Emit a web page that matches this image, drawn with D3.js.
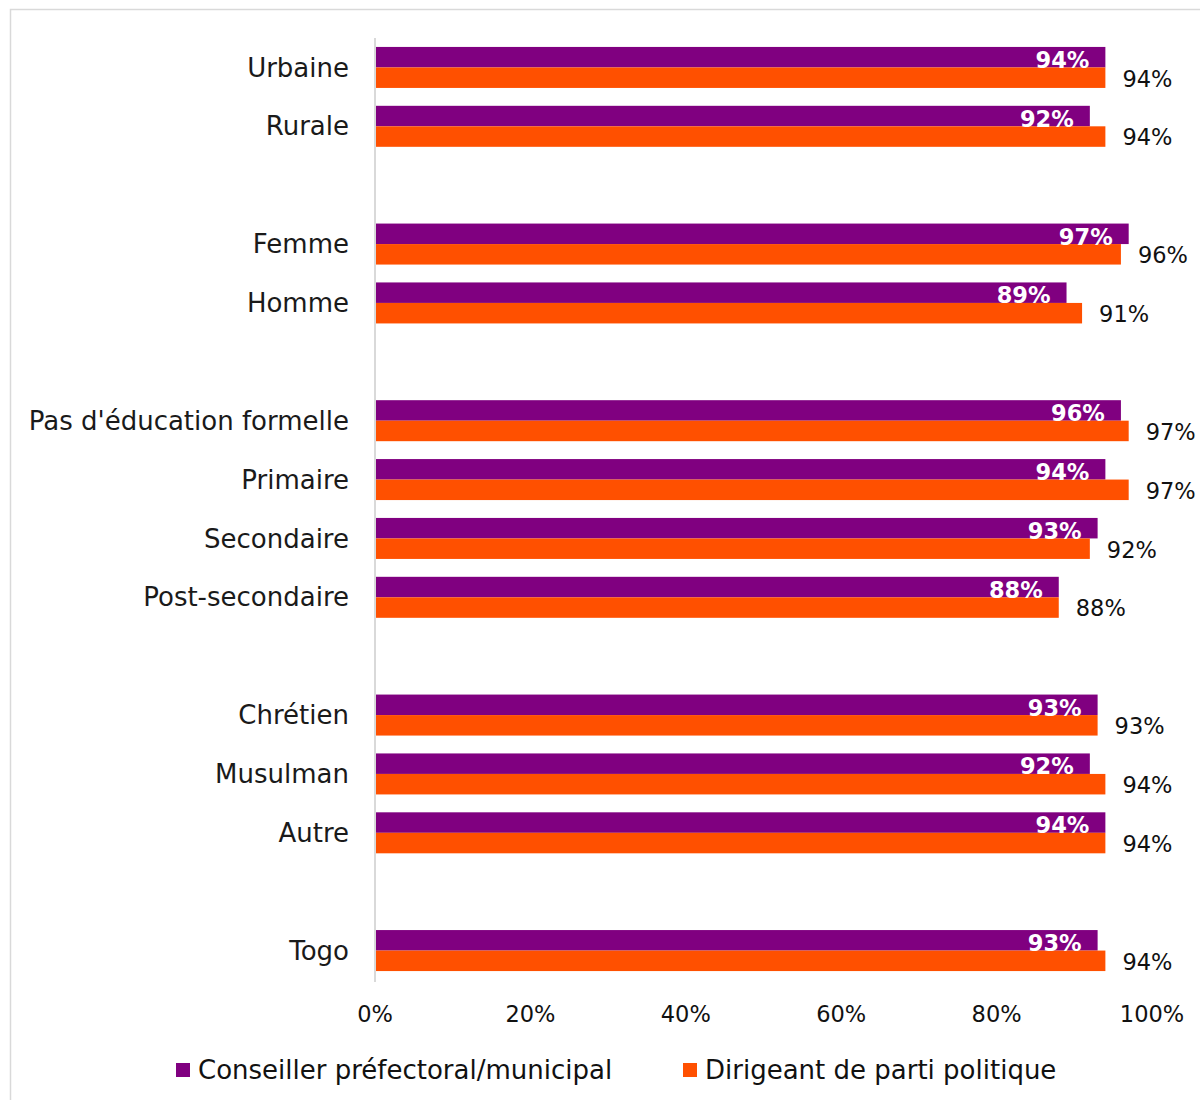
<!DOCTYPE html>
<html>
<head>
<meta charset="utf-8">
<script src="https://cdn.jsdelivr.net/npm/d3@7"></script>
<style>
  html, body { margin: 0; padding: 0; background: #fff; }
  svg { display: block; }
  text { font-family: "DejaVu Sans", sans-serif; }
</style>
</head>
<body>
<svg id="chart" width="1200" height="1100"></svg>
<script>
// Row labels (empty strings are spacer rows between groups)
const categories = [
  "Urbaine", "Rurale", "",
  "Femme", "Homme", "",
  "Pas d'éducation formelle", "Primaire", "Secondaire", "Post-secondaire", "",
  "Chrétien", "Musulman", "Autre", "",
  "Togo"
];
const conseiller = [94, 92, null, 97, 89, null, 96, 94, 93, 88, null, 93, 92, 94, null, 93];
const dirigeant  = [94, 94, null, 96, 91, null, 97, 97, 92, 88, null, 93, 94, 94, null, 94];
const seriesNames = ["Conseiller préfectoral/municipal", "Dirigeant de parti politique"];
const seriesColors = ["#800080", "#ff5000"];
const xTicks = [0, 20, 40, 60, 80, 100];

const svg = d3.select("#chart");

// outer frame
svg.append("rect")
  .attr("x", 10.5).attr("y", 9.5)
  .attr("width", 1200).attr("height", 1200)
  .attr("fill", "none").attr("stroke", "#d9d9d9").attr("stroke-width", 1.5);

const x = d3.scaleLinear().domain([0, 100]).range([375, 1152]);
const y = d3.scaleBand().domain(d3.range(categories.length)).range([38, 980]).padding(0);
const barH = 20.5;

// category labels
svg.append("g").selectAll("text")
  .data(categories)
  .join("text")
  .attr("x", 349)
  .attr("y", (d, i) => y(i) + y.bandwidth() / 2)
  .attr("dy", "0.35em")
  .attr("text-anchor", "end")
  .attr("font-size", 26)
  .attr("fill", "#1a1a1a")
  .text(d => d);

const rows = categories.map((c, i) => ({ i, a: conseiller[i], b: dirigeant[i] })).filter(r => r.a != null);

const mid = i => y(i) + y.bandwidth() / 2;

// purple bars
svg.append("g").selectAll("rect")
  .data(rows).join("rect")
  .attr("x", x(0)).attr("y", r => mid(r.i) - barH)
  .attr("width", r => x(r.a) - x(0)).attr("height", barH)
  .attr("fill", seriesColors[0]);

// orange bars
svg.append("g").selectAll("rect")
  .data(rows).join("rect")
  .attr("x", x(0)).attr("y", r => mid(r.i))
  .attr("width", r => x(r.b) - x(0)).attr("height", barH)
  .attr("fill", seriesColors[1]);

// value axis line
svg.append("line")
  .attr("x1", x(0)).attr("x2", x(0))
  .attr("y1", 38).attr("y2", 982)
  .attr("stroke", "#d9d9d9").attr("stroke-width", 2);

// labels inside purple bars
svg.append("g").selectAll("text")
  .data(rows).join("text")
  .attr("x", r => x(r.a) - 16)
  .attr("y", r => mid(r.i) + 0.5)
  .attr("text-anchor", "end")
  .attr("font-size", 22.5)
  .attr("font-weight", "bold")
  .attr("fill", "#fff")
  .text(r => r.a + "%");

// labels after orange bars
svg.append("g").selectAll("text")
  .data(rows).join("text")
  .attr("x", r => x(r.b) + 17)
  .attr("y", r => mid(r.i) + barH / 2 + 1)
  .attr("dy", "0.35em")
  .attr("font-size", 22.5)
  .attr("fill", "#111")
  .text(r => r.b + "%");

// x tick labels
svg.append("g").selectAll("text")
  .data(xTicks).join("text")
  .attr("x", d => x(d))
  .attr("y", 1014)
  .attr("dy", "0.35em")
  .attr("text-anchor", "middle")
  .attr("font-size", 22.5)
  .attr("fill", "#111")
  .text(d => d + "%");

// legend
const legendX = [176, 683];
const lg = svg.append("g").selectAll("g")
  .data(seriesNames).join("g")
  .attr("transform", (d, i) => `translate(${legendX[i]},1070)`);
lg.append("rect").attr("x", 0).attr("y", -7).attr("width", 14).attr("height", 14)
  .attr("fill", (d, i) => seriesColors[i]);
lg.append("text").attr("x", 22).attr("y", 0).attr("dy", "0.35em")
  .attr("font-size", 26).attr("fill", "#111").text(d => d);
</script>
</body>
</html>
